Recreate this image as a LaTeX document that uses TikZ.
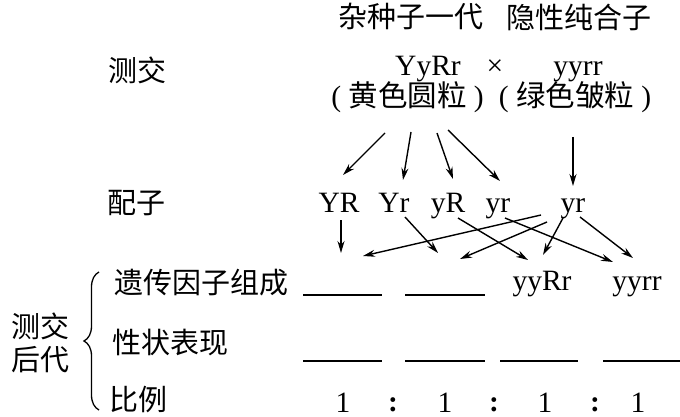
\documentclass[tikz,border=0pt]{standalone}
\usepackage{fontspec}
\setmainfont{Liberation Serif}
\newfontfamily\cjk{Noto Sans CJK SC}
\usetikzlibrary{arrows.meta,decorations.pathreplacing}
\tikzset{
  lat/.style={inner sep=0pt, anchor=base, font=\fontsize{29.5}{31}\selectfont},
  han/.style={inner sep=0pt, font=\cjk\fontsize{29}{30}\selectfont},
  arr/.style={line width=1.4pt, -{Stealth[length=12pt,width=7pt]}},
  blank/.style={line width=1.4pt},
}
\begin{document}
\begin{tikzpicture}[x=1pt,y=-1pt]
\useasboundingbox (0,0) rectangle (680,417);
% titles
\node[han] (t1) at (410.5,17) {杂种子一代};
\node[han] (t2) at (578.5,17) {隐性纯合子};
\node[han] (cj) at (137.5,70) {测交};
\node[lat] (P1) at (428,76) {YyRr};
\node[lat] (x) at (495,76) {×};
\node[lat] (P2) at (578,76) {yyrr};
\node[lat] (ph1) at (407.5,107) {( {\cjk 黄色圆粒} )};
\node[lat] (ph2) at (575,107) {( {\cjk 绿色皱粒} )};
% gametes
\node[han] (pz) at (136.5,203) {配子};
\node[lat] (YR) at (339,212) {YR};
\node[lat] (Yr) at (394,212) {Yr};
\node[lat] (yR) at (448,212) {yR};
\node[lat] (yr) at (498,212) {yr};
\node[lat] (yr2) at (573,212) {yr};
% arrow coordinates
\coordinate (s1) at (385,133); \coordinate (e1) at (343,175);
\coordinate (s2) at (411,132); \coordinate (e2) at (403,180);
\coordinate (s3) at (437,133); \coordinate (e3) at (453,179);
\coordinate (s4) at (448,130); \coordinate (e4) at (500,181);
\coordinate (s5) at (573,137); \coordinate (e5) at (573,186);
\draw[arr] (s1) -- (e1);
\draw[arr] (s2) -- (e2);
\draw[arr] (s3) -- (e3);
\draw[arr] (s4) -- (e4);
\draw[arr] (s5) -- (e5);
% offspring labels
\node[han] (lab1) at (201.5,283) {遗传因子组成};
\node[han] (lab2) at (170,343) {性状表现};
\node[han] (lab3) at (138.5,400) {比例};
\node[han] (cj2) at (40,326) {测交};
\node[han] (hd) at (40,360) {后代};
\draw[line width=1.3pt, decorate, decoration={brace, amplitude=15pt}] (99,410) -- (99,272);
% blanks
\draw[blank] (303,295) coordinate (b1l) -- (382,295) coordinate (b1r);
\draw[blank] (405,295) coordinate (b2l) -- (485,295) coordinate (b2r);
\node[lat] (g3) at (542,290) {yyRr};
\node[lat] (g4) at (637,290) {yyrr};
\draw[blank] (303,361) -- (382,361);
\draw[blank] (405,361) -- (485,361);
\draw[blank] (500,361) -- (578,361);
\draw[blank] (603,361) -- (680,361);
% ratio
\node[lat] (r1) at (343,412) {1};
\node[lat] (c1) at (393,411) {\textbf{:}};
\node[lat] (r2) at (445,412) {1};
\node[lat] (c2) at (494,411) {\textbf{:}};
\node[lat] (r3) at (545,412) {1};
\node[lat] (c3) at (595,411) {\textbf{:}};
\node[lat] (r4) at (638,412) {1};
% lower arrows
\coordinate (a1s) at (341,220); \coordinate (a1e) at (341,253);
\coordinate (a2s) at (405,217); \coordinate (a2e) at (438,253);
\coordinate (a3s) at (458,218); \coordinate (a3e) at (528,260);
\coordinate (a4s) at (505,218); \coordinate (a4e) at (613,262);
\coordinate (a5s) at (541,215); \coordinate (a5e) at (363,256);
\coordinate (a6s) at (547,222); \coordinate (a6e) at (460,259);
\coordinate (a7s) at (563,218); \coordinate (a7e) at (543,255);
\coordinate (a8s) at (580,217); \coordinate (a8e) at (633,258);
\draw[arr] (a1s) -- (a1e);
\draw[arr] (a2s) -- (a2e);
\draw[arr] (a3s) -- (a3e);
\draw[arr] (a4s) -- (a4e);
\draw[arr] (a5s) -- (a5e);
\draw[arr] (a6s) -- (a6e);
\draw[arr] (a7s) -- (a7e);
\draw[arr] (a8s) -- (a8e);
\end{tikzpicture}
\end{document}
